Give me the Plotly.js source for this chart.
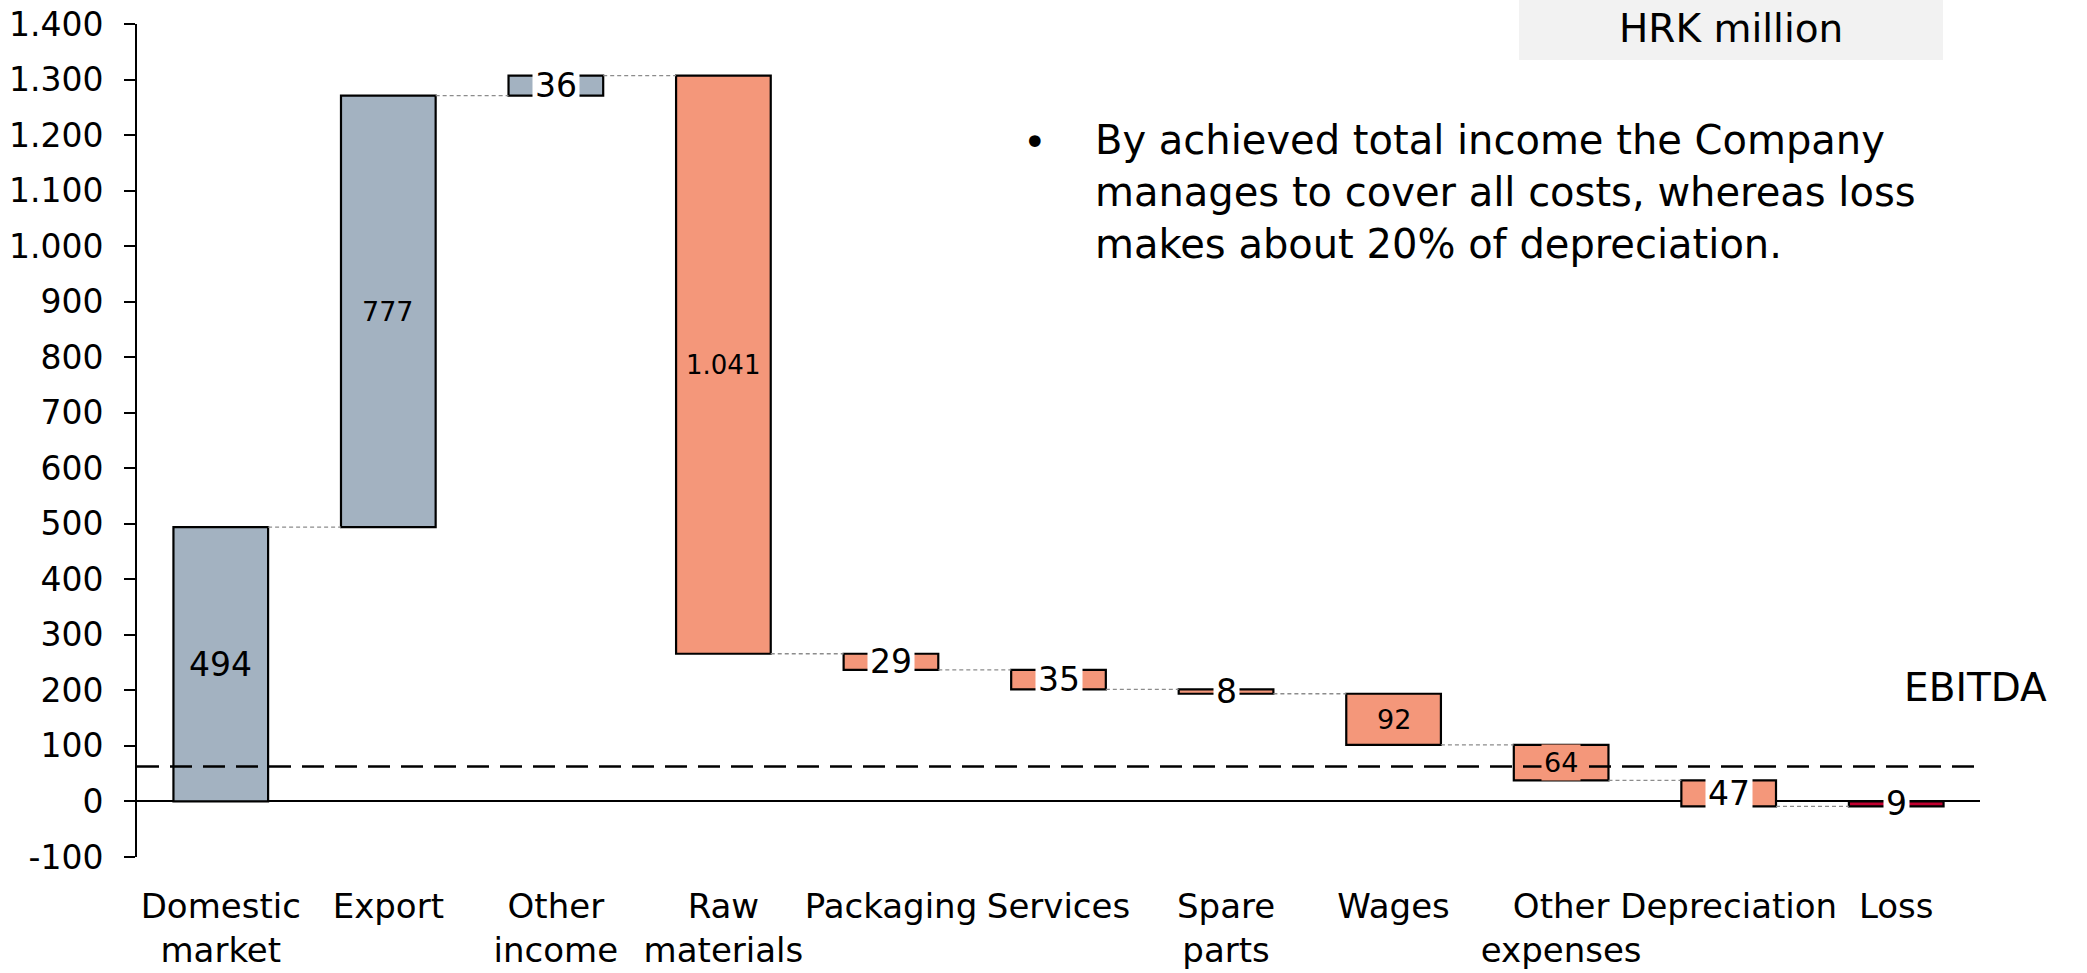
<!DOCTYPE html>
<html>
<head>
<meta charset="utf-8">
<script src="https://cdn.plot.ly/plotly-3.0.1.min.js"></script>
<style>
  html, body { margin: 0; padding: 0; background: #ffffff; }
  #chart { width: 2087px; height: 973px; }
</style>
</head>
<body>
<div id="chart"></div>
<script>
// ---- data ----
const categories = ["Domestic<br>market", "Export", "Other<br>income", "Raw<br>materials", "Packaging",
                    "Services", "Spare<br>parts", "Wages", "Other<br>expenses", "Depreciation", "Loss"];
const values = [494, 777, 36, -1041, -29, -35, -8, -92, -64, -47, 9];
const kinds = ["income", "income", "income", "cost", "cost", "cost", "cost", "cost", "cost", "cost", "loss"];
const ebitda = 63;
const yTicks = [-100, 0, 100, 200, 300, 400, 500, 600, 700, 800, 900, 1000, 1100, 1200, 1300, 1400];
const unitLabel = "HRK million";
const ebitdaLabel = "EBITDA";
const commentText = "By achieved total income the Company<br>manages to cover all costs, whereas loss<br>makes about 20% of depreciation.";

// ---- styles ----
const kindColors = { income: "#A3B2C1", cost: "#F4977A", loss: "#C00030" };
const labelSizes = [33, 27, 33, 26, 33, 33, 33, 27, 27, 33, 33];
const FONT = "DejaVu Sans, Verdana, sans-serif";
const barWidth = 0.565;

// ---- build ----
const xs = categories.map((_, i) => i);
const bases = [], heights = [], tops = [];
let running = 0;
values.forEach(v => {
  const next = running + v;
  bases.push(Math.min(running, next));
  heights.push(Math.abs(v));
  tops.push(next);
  running = next;
});
const colors = kinds.map(k => kindColors[k]);

function fmt(n) {
  return String(Math.abs(n)).replace(/\B(?=(\d{3})+(?!\d))/g, ".");
}

const bars = {
  type: "bar",
  x: xs, y: heights, base: bases,
  width: barWidth,
  marker: { color: colors, line: { color: "#000000", width: 2.2 } },
  hoverinfo: "skip",
  showlegend: false
};

// connectors
const cx = [], cy = [];
for (let i = 0; i < values.length - 1; i++) {
  cx.push(i + barWidth / 2, i + 1 - barWidth / 2, null);
  cy.push(tops[i], tops[i], null);
}
const connectors = {
  type: "scatter", mode: "lines", x: cx, y: cy,
  line: { color: "#8c8c8c", width: 1.3, dash: "4px,3px" },
  hoverinfo: "skip", showlegend: false
};

const marker = {
  type: "scatter", mode: "markers", x: [10.66], y: [ebitda],
  marker: { symbol: "triangle-left", size: 30, color: "#000000" },
  cliponaxis: false, hoverinfo: "skip", showlegend: false
};

const annotations = values.map((v, i) => ({
  x: i, y: bases[i] + heights[i] / 2, xref: "x", yref: "y",
  text: fmt(v), showarrow: false,
  font: { family: FONT, size: labelSizes[i], color: "#000000" },
  bgcolor: Math.abs(v) < 50 ? "#ffffff" : colors[i],
  borderpad: 2
}));

annotations.push(
  { x: 10.82, y: ebitda, xref: "x", yref: "y", text: String(ebitda), showarrow: false,
    xanchor: "left", yanchor: "middle", font: { family: FONT, size: 39, color: "#000" } },
  { x: 0.9973, y: 0.2029, xref: "paper", yref: "paper", text: ebitdaLabel, showarrow: false,
    xanchor: "center", yanchor: "middle", font: { family: FONT, size: 39, color: "#000" } },
  { x: 0.8649, y: 0.995, xref: "paper", yref: "paper", text: unitLabel, showarrow: false,
    xanchor: "center", yanchor: "middle", font: { family: FONT, size: 39, color: "#000" } },
  { x: 0.4873, y: 0.858, xref: "paper", yref: "paper", text: "•", showarrow: false,
    xanchor: "center", yanchor: "middle", font: { family: FONT, size: 40, color: "#000" } },
  { x: 0.5187, y: 0.7985, xref: "paper", yref: "paper", text: commentText, showarrow: false,
    xanchor: "left", yanchor: "middle", align: "left",
    font: { family: FONT, size: 40, color: "#000" } }
);

const layout = {
  width: 2087, height: 973,
  margin: { l: 137, r: 107, t: 24, b: 116 },
  paper_bgcolor: "#ffffff", plot_bgcolor: "#ffffff",
  separators: ",.",
  font: { family: FONT, color: "#000000" },
  bargap: 0,
  xaxis: {
    range: [-0.5, 10.5], tickmode: "array", tickvals: xs, ticktext: categories,
    showgrid: false, zeroline: false, showline: false, ticks: "",
    tickangle: 0,
    tickfont: { family: FONT, size: 34, color: "#000" },
    ticklabelstandoff: 26, fixedrange: true
  },
  yaxis: {
    range: [yTicks[0], yTicks[yTicks.length - 1]],
    tickmode: "array", tickvals: yTicks, ticktext: yTicks.map(t => (t < 0 ? "-" : "") + fmt(t)),
    showgrid: false, showline: true, linecolor: "#000", linewidth: 2,
    ticks: "outside", ticklen: 11, tickwidth: 2, tickcolor: "#000",
    zeroline: true, zerolinecolor: "#000", zerolinewidth: 2,
    tickfont: { family: FONT, size: 33, color: "#000" },
    ticklabelstandoff: 14, fixedrange: true
  },
  shapes: [
    { type: "line", xref: "x", yref: "y", x0: -0.5, x1: 10.52, y0: ebitda, y1: ebitda,
      line: { color: "#000", width: 2.5, dash: "22px,11px" }, layer: "above" },
    { type: "rect", xref: "paper", yref: "paper", x0: 0.7499, x1: 0.9799, y0: 0.9568, y1: 1.0288,
      fillcolor: "#F2F2F2", line: { width: 0 }, layer: "below" }
  ],
  annotations: annotations,
  showlegend: false
};

Plotly.newPlot("chart", [bars, connectors, marker], layout, { staticPlot: true, displayModeBar: false });
</script>
</body>
</html>
